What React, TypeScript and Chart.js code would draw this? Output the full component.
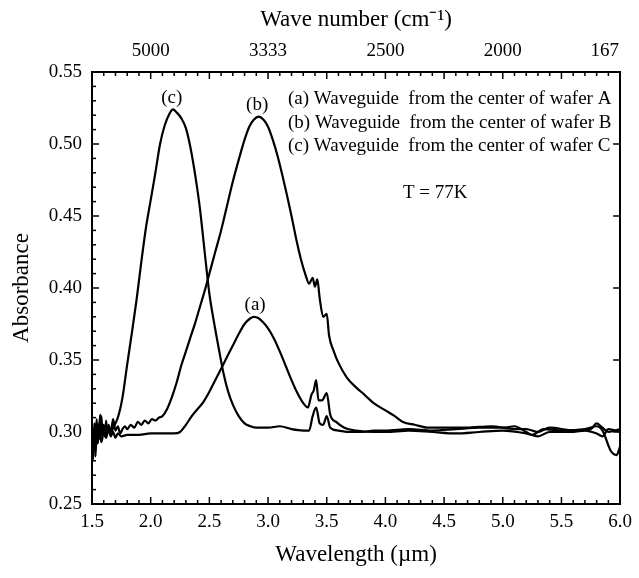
import React, { useEffect, useRef } from "react";
import { Chart, registerables } from "chart.js";
Chart.register(...registerables);

const FONT = '"Liberation Serif", "Times New Roman", serif';

// Wavelength (µm), absorbance pairs
const seriesA: [number, number][] = [
  [1.50,0.285],[1.51,0.281],[1.52,0.298],[1.53,0.289],[1.54,0.304],[1.55,0.296],[1.56,0.301],[1.58,0.293],[1.60,0.300],[1.62,0.296],[1.64,0.302],[1.66,0.297],[1.68,0.300],[1.70,0.296],[1.72,0.299],[1.75,0.297],[1.80,0.298],[1.90,0.298],[2.00,0.299],[2.10,0.299],[2.20,0.299],[2.25,0.300],[2.30,0.305],[2.35,0.311],[2.40,0.316],[2.45,0.321],[2.50,0.328],[2.55,0.336],[2.60,0.344],[2.65,0.352],[2.70,0.360],[2.75,0.368],[2.80,0.375],[2.85,0.379],[2.88,0.380],[2.92,0.379],[2.96,0.376],[3.00,0.372],[3.05,0.365],[3.10,0.356],[3.15,0.346],[3.20,0.336],[3.25,0.327],[3.30,0.320],[3.34,0.317],[3.37,0.326],[3.39,0.329],[3.41,0.336],[3.43,0.322],[3.46,0.322],[3.50,0.327],[3.53,0.312],[3.58,0.307],[3.65,0.303],[3.75,0.301],[3.90,0.300],[4.00,0.300],[4.20,0.301],[4.40,0.300],[4.60,0.299],[4.80,0.300],[5.00,0.301],[5.20,0.299],[5.30,0.297],[5.40,0.300],[5.60,0.300],[5.70,0.301],[5.80,0.299],[5.85,0.297],[5.90,0.302],[6.00,0.300],
];

const seriesB: [number, number][] = [
  [1.50,0.302],[1.51,0.290],[1.52,0.306],[1.53,0.296],[1.54,0.309],[1.55,0.293],[1.56,0.300],[1.57,0.312],[1.58,0.298],[1.60,0.303],[1.62,0.297],[1.64,0.305],[1.66,0.300],[1.68,0.309],[1.70,0.301],[1.72,0.304],[1.74,0.299],[1.76,0.302],[1.78,0.304],[1.80,0.302],[1.83,0.305],[1.86,0.303],[1.89,0.307],[1.92,0.305],[1.95,0.308],[1.98,0.306],[2.01,0.309],[2.04,0.308],[2.07,0.310],[2.10,0.311],[2.14,0.316],[2.18,0.324],[2.22,0.334],[2.26,0.346],[2.30,0.356],[2.34,0.366],[2.38,0.376],[2.42,0.387],[2.46,0.398],[2.50,0.410],[2.55,0.425],[2.60,0.440],[2.65,0.457],[2.70,0.474],[2.75,0.489],[2.80,0.503],[2.84,0.512],[2.88,0.517],[2.92,0.519],[2.96,0.517],[3.00,0.512],[3.04,0.503],[3.08,0.492],[3.12,0.479],[3.16,0.465],[3.20,0.450],[3.24,0.434],[3.28,0.420],[3.32,0.409],[3.35,0.403],[3.38,0.407],[3.40,0.401],[3.42,0.406],[3.44,0.393],[3.47,0.380],[3.50,0.382],[3.52,0.367],[3.56,0.356],[3.60,0.348],[3.67,0.338],[3.75,0.331],[3.82,0.326],[3.90,0.320],[4.00,0.315],[4.08,0.311],[4.15,0.307],[4.25,0.305],[4.37,0.303],[4.50,0.303],[4.70,0.303],[4.90,0.304],[5.10,0.302],[5.20,0.302],[5.30,0.300],[5.40,0.303],[5.60,0.301],[5.75,0.302],[5.80,0.306],[5.85,0.303],[5.90,0.300],[6.00,0.302],
];

const seriesC: [number, number][] = [
  [1.50,0.296],[1.51,0.288],[1.52,0.300],[1.53,0.283],[1.54,0.303],[1.55,0.292],[1.56,0.306],[1.57,0.295],[1.58,0.311],[1.59,0.299],[1.60,0.305],[1.61,0.297],[1.62,0.308],[1.63,0.300],[1.64,0.304],[1.66,0.298],[1.68,0.303],[1.70,0.306],[1.72,0.310],[1.74,0.316],[1.76,0.324],[1.80,0.347],[1.84,0.369],[1.88,0.392],[1.92,0.418],[1.96,0.442],[2.00,0.461],[2.04,0.480],[2.08,0.500],[2.12,0.513],[2.16,0.521],[2.19,0.524],[2.22,0.522],[2.26,0.518],[2.30,0.511],[2.34,0.497],[2.38,0.478],[2.42,0.455],[2.46,0.425],[2.50,0.396],[2.54,0.376],[2.58,0.358],[2.62,0.341],[2.66,0.328],[2.70,0.319],[2.75,0.311],[2.80,0.306],[2.85,0.304],[2.90,0.303],[3.00,0.303],[3.10,0.304],[3.20,0.302],[3.30,0.301],[3.35,0.301],[3.38,0.311],[3.41,0.317],[3.44,0.306],[3.47,0.305],[3.50,0.311],[3.53,0.303],[3.60,0.301],[3.70,0.300],[3.80,0.300],[3.90,0.301],[4.00,0.301],[4.20,0.302],[4.40,0.301],[4.60,0.302],[4.80,0.303],[5.00,0.303],[5.10,0.304],[5.20,0.300],[5.25,0.298],[5.35,0.302],[5.50,0.301],[5.70,0.302],[5.80,0.304],[5.85,0.301],[5.92,0.287],[5.97,0.284],[6.00,0.290],
];

const topTickValues = [2, 3, 4, 5, 6];
const topTickLabels = ["5000", "3333", "2500", "2000", "167"];

const legendLines = [
  "(a) Waveguide  from the center of wafer A",
  "(b) Waveguide  from the center of wafer B",
  "(c) Waveguide  from the center of wafer C",
];
const peakLabels: [string, number, number][] = [
  ["(c)", 2.18, 0.532],
  ["(b)", 2.907, 0.527],
  ["(a)", 2.89, 0.388],
];
const tempText = "T = 77K";

const decorPlugin = {
  id: "decor",
  afterDraw(chart: any) {
    const ctx = chart.ctx as CanvasRenderingContext2D;
    const xs = chart.scales.x;
    const ys = chart.scales.y;
    const { left, right, top, bottom } = chart.chartArea;
    ctx.save();
    ctx.strokeStyle = "#000";
    ctx.lineWidth = 1.5;
    const seg = (x1: number, y1: number, x2: number, y2: number) => {
      ctx.beginPath();
      ctx.moveTo(x1, y1);
      ctx.lineTo(x2, y2);
      ctx.stroke();
    };
    for (let i = 0; i <= 45; i++) {
      const px = xs.getPixelForValue(1.5 + i * 0.1);
      const len = i % 5 === 0 ? 7 : 4;
      seg(px, bottom, px, bottom - len);
      seg(px, top, px, top + len);
    }
    for (let i = 0; i <= 30; i++) {
      const py = ys.getPixelForValue(0.25 + i * 0.01);
      const major = i % 5 === 0;
      seg(left, py, left + (major ? 7 : 4), py);
      if (major) seg(right, py, right - 7, py);
    }
    ctx.fillStyle = "#000";
    ctx.font = `19px ${FONT}`;
    ctx.textAlign = "center";
    ctx.textBaseline = "middle";
    topTickValues.forEach((v, i) => {
      const label = topTickLabels[i];
      let px = xs.getPixelForValue(v);
      const w = ctx.measureText(label).width;
      if (px + w / 2 > chart.width - 20) px = chart.width - 20 - w / 2;
      ctx.fillText(label, px, top - 21);
    });
    peakLabels.forEach(([t, x, y]) => {
      ctx.fillText(t, xs.getPixelForValue(x), ys.getPixelForValue(y));
    });
    ctx.textAlign = "left";
    ctx.font = `19px ${FONT}`;
    legendLines.forEach((t, i) => {
      ctx.fillText(t, xs.getPixelForValue(3.17), ys.getPixelForValue(0.531 - i * 0.0163));
    });
    ctx.fillText(tempText, xs.getPixelForValue(4.15), ys.getPixelForValue(0.466));
    ctx.restore();
  },
};

const toPoints = (s: [number, number][]) => s.map(([x, y]) => ({ x, y }));

export default function App() {
  const ref = useRef<HTMLCanvasElement>(null);
  useEffect(() => {
    document.body.style.margin = "0";
    const lineDs = (label: string, s: [number, number][]) => ({
      label,
      data: toPoints(s),
      borderColor: "#000",
      borderWidth: 2.2,
      pointRadius: 0,
      showLine: true,
      fill: false,
      cubicInterpolationMode: "monotone",
    });
    const tickFont = { family: FONT, size: 19 };
    const titleFont = { family: FONT, size: 23 };
    const chart = new Chart(ref.current!, {
      type: "scatter",
      data: {
        datasets: [lineDs("(a)", seriesA), lineDs("(b)", seriesB), lineDs("(c)", seriesC)],
      },
      options: {
        animation: false,
        responsive: false,
        devicePixelRatio: 1,
        layout: { padding: 0 },
        plugins: { legend: { display: false }, tooltip: { enabled: false } },
        scales: {
          x: {
            type: "linear",
            position: "bottom",
            min: 1.5,
            max: 6.0,
            grid: { display: false, drawTicks: false },
            border: { display: true, color: "#000", width: 2 },
            ticks: {
              stepSize: 0.5,
              color: "#000",
              font: tickFont,
              padding: 7,
              maxRotation: 0,
              callback: (v: any) => Number(v).toFixed(1),
            },
            title: { display: true, text: "Wavelength (\u00b5m)", color: "#000", font: titleFont, padding: { top: 0, bottom: 9 } },
            afterFit: (s: any) => { s.height = 74; },
          },
          x2: {
            type: "linear",
            position: "top",
            min: 1.5,
            max: 6.0,
            grid: { display: false, drawTicks: false },
            border: { display: true, color: "#000", width: 2 },
            ticks: { display: false },
            title: { display: true, text: "Wave number (cm\u207b\u00b9)", color: "#000", font: titleFont, padding: { top: 6, bottom: 0 } },
            afterFit: (s: any) => { s.height = 72; },
          },
          y: {
            type: "linear",
            position: "left",
            min: 0.25,
            max: 0.55,
            grid: { display: false, drawTicks: false },
            border: { display: true, color: "#000", width: 2 },
            ticks: {
              stepSize: 0.05,
              color: "#000",
              font: tickFont,
              padding: 10,
              callback: (v: any) => Number(v).toFixed(2),
            },
            title: { display: true, text: "Absorbance", color: "#000", font: titleFont, padding: { top: 8, bottom: 0 } },
            afterFit: (s: any) => { s.width = 92; },
          },
          y2: {
            type: "linear",
            position: "right",
            min: 0.25,
            max: 0.55,
            grid: { display: false, drawTicks: false },
            border: { display: true, color: "#000", width: 2 },
            ticks: { display: false },
            afterFit: (s: any) => { s.width = 13; },
          },
        },
      },
      plugins: [decorPlugin],
    } as any);
    return () => chart.destroy();
  }, []);
  return <canvas ref={ref} width={639} height={578} style={{ display: "block" }} />;
}
